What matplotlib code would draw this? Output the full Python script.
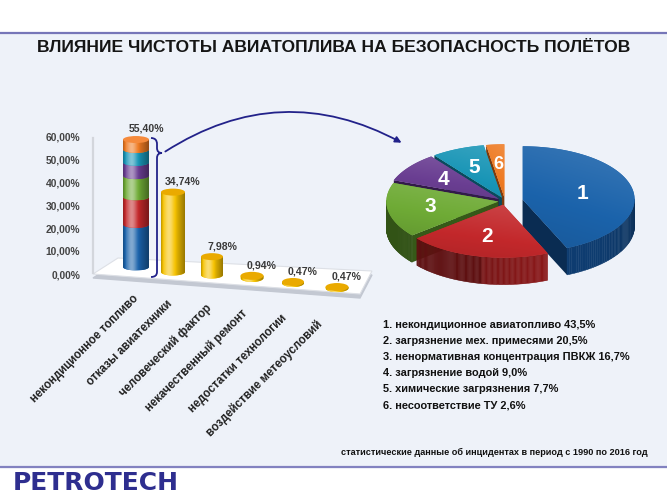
import numpy as np
import matplotlib
matplotlib.use("Agg")
import matplotlib.pyplot as plt
from matplotlib.patches import Polygon, Ellipse, FancyArrowPatch, PathPatch, Rectangle
from matplotlib.path import Path
from matplotlib.colors import to_rgb

plt.rcParams['font.family'] = ['Liberation Sans', 'DejaVu Sans']

# ---- данные ----
title = 'ВЛИЯНИЕ ЧИСТОТЫ АВИАТОПЛИВА НА БЕЗОПАСНОСТЬ ПОЛЁТОВ'
categories = ['некондиционное топливо', 'отказы авиатехники', 'человеческий фактор',
              'некачественный ремонт', 'недостатки технологии', 'воздействие метеоусловий']
bar_values = [55.40, 34.74, 7.98, 0.94, 0.47, 0.47]
bar_labels = ['55,40%', '34,74%', '7,98%', '0,94%', '0,47%', '0,47%']
# сегменты первого столбца (как нарисованы на картинке)
fuel_stack = [18.5, 12.0, 9.2, 5.8, 5.6, 4.3]
y_ticks = [0, 10, 20, 30, 40, 50, 60]
y_tick_labels = ['0,00%', '10,00%', '20,00%', '30,00%', '40,00%', '50,00%', '60,00%']

pie_values = [43.5, 20.5, 16.7, 9.0, 7.7, 2.6]
pie_names = ['некондиционное авиатопливо', 'загрязнение мех. примесями',
             'ненормативная концентрация ПВКЖ', 'загрязнение водой',
             'химические загрязнения', 'несоответствие ТУ']
pie_value_labels = ['43,5%', '20,5%', '16,7%', '9,0%', '7,7%', '2,6%']
note = 'статистические данные об инцидентах в период с 1990 по 2016 год'

# ---- оформление ----
pie_top = ['#1b63ab', '#c3282b', '#6fab36', '#6a3e92', '#1895b6', '#ee7a22']
pie_side = ['#0d3766', '#7e1617', '#436f1e', '#3f215b', '#0b5c73', '#9b4a12']
yellow = '#f6c200'
PX = 2.3          # пикселей на 1%
Y0 = 275          # пиксель нуля шкалы
bar_x = [136, 173, 212, 252, 293, 337]
bar_w = [26, 24, 22, 23, 22, 23]
bar_shift = [3.5, 1.3, 0.0, -1.3, -3.5, -5.7]
cat_anchor = [(132, 293), (166, 298), (205, 302), (241, 307), (281, 312), (316, 318)]

fig = plt.figure(figsize=(6.67, 5.0), dpi=100)
ax0 = fig.add_axes([0, 0, 1, 1])
ax0.set_xlim(0, 667)
ax0.set_ylim(500, 0)
ax0.axis('off')

# фон
ax0.add_patch(Rectangle((0, 0), 667, 500, color='white', zorder=0))
ax0.add_patch(Rectangle((0, 33), 667, 434, color='#eef2f9', zorder=0))
ax0.plot([0, 667], [33, 33], color='#7676b8', lw=1.6, zorder=1)
ax0.plot([0, 667], [467, 467], color='#8282c0', lw=1.6, zorder=1)
ax0.text(334, 48, title, ha='center', va='center', fontsize=12.6, fontweight='bold', color='#151515')
ax0.text(648, 452, note, ha='right', va='center', fontsize=6.6, fontweight='bold', color='#111',
         family=['Liberation Sans Narrow', 'Liberation Sans'])
ax0.text(13, 483, 'PETROTECH', ha='left', va='center', fontsize=18, fontweight='heavy',
         color='#2e2e8f', family=['DejaVu Sans'])

# пол и ось
floor = [(93, 274), (118, 258), (372, 271), (360, 294)]
ax0.add_patch(Polygon([(x, y + 4) for x, y in floor], closed=True, color='#c3c8d2', zorder=2))
ax0.add_patch(Polygon(floor, closed=True, facecolor='white', edgecolor='#dde0e6', lw=0.8, zorder=3))
ax0.plot([93, 93], [138, 273], color='#d3d6dc', lw=1.6, zorder=3)

# ---- столбцы ----
axb = fig.add_axes([0, 0, 1, 1])
axb.patch.set_alpha(0)
axb.axis('off')


def shade_row(c, n=48):
    c = np.array(to_rgb(c))
    t = np.linspace(0, 1, n)
    b = 0.45 * np.exp(-((t - 0.33) / 0.2) ** 2) - 0.38 * np.clip((t - 0.45) / 0.55, 0, 1) ** 1.3 \
        - 0.25 * np.clip((0.12 - t) / 0.12, 0, 1)
    out = np.where(b[:, None] > 0, c + b[:, None] * (1 - c), c * (1 + b[:, None]))
    return np.clip(out, 0, 1)[None, :, :]


def cylinder(x, bottom, height, w, color, cap=None, eh=7 / PX):
    top = bottom + height
    t = np.linspace(np.pi, 2 * np.pi, 40)
    pts = [(x + w / 2 * np.cos(a), bottom + eh / 2 * np.sin(a)) for a in t]
    pts += [(x + w / 2, top), (x - w / 2, top)]
    poly = Polygon(pts, closed=True, facecolor=color, edgecolor='none', zorder=5)
    axb.add_patch(poly)
    im = axb.imshow(shade_row(color), extent=[x - w / 2, x + w / 2, bottom - eh / 2, top],
                    aspect='auto', interpolation='bilinear', zorder=5)
    im.set_clip_path(poly)
    if cap is not None:
        axb.add_patch(Ellipse((x, top), w, eh, facecolor=cap, edgecolor='none', zorder=6))


# первый столбец: составной
bot = bar_shift[0]
for seg, col in zip(fuel_stack, pie_top):
    cylinder(bar_x[0], bot, seg, bar_w[0], col)
    bot += seg
axb.add_patch(Ellipse((bar_x[0], bot), bar_w[0], 7 / PX, facecolor='#f58a3c', edgecolor='none', zorder=6))

for i in range(1, len(bar_values)):
    eh = 7 / PX if i < 3 else 8 / PX
    cylinder(bar_x[i], bar_shift[i], bar_values[i], bar_w[i], yellow, cap='#eaaa00', eh=eh)

for i, lab in enumerate(bar_labels):
    axb.text(bar_x[i] + 10, bar_shift[i] + bar_values[i] + 4.6, lab, ha='center', va='center',
             fontsize=7.6, fontweight='bold', color='#3a3a3a')

for v, lab in zip(y_ticks, y_tick_labels):
    axb.text(80, v, lab, ha='right', va='center', fontsize=7.4, fontweight='bold', color='#444')

axb.set_xlim(0, 667)
axb.set_ylim((Y0 - 500) / PX, Y0 / PX)

for (ax_, ay_), cat in zip(cat_anchor, categories):
    ax0.text(ax_, ay_, cat, ha='right', va='top', rotation=45, rotation_mode='anchor',
             fontsize=8.3, fontweight='bold', color='#222', zorder=4)

# фигурная скобка и стрелка
M, C3, L = Path.MOVETO, Path.CURVE3, Path.LINETO
brace = Path([(151, 138), (157, 138), (157, 144), (157, 148), (157, 153), (162, 153),
              (157, 153), (157, 158), (157, 272), (157, 277), (151, 277)],
             [M, C3, C3, L, C3, C3, C3, C3, L, C3, C3])
ax0.add_patch(PathPatch(brace, facecolor='none', edgecolor='#22228a', lw=1.3, zorder=7))
ax0.add_patch(FancyArrowPatch((163, 153), (404, 144), connectionstyle='arc3,rad=-0.3',
                              arrowstyle='-|>', mutation_scale=9, color='#22228a', lw=1.3, zorder=7))

# ---- 3D круговая диаграмма ----
cx, cy, rx, ry, depth = 505, 201, 112, 53, 27
explode = [0.16, 0.07, 0.06, 0.07, 0.07, 0.07]
fr = np.array(pie_values) / sum(pie_values)
starts = 90 - 360 * np.concatenate([[0], np.cumsum(fr)[:-1]])
ends = starts - 360 * fr


def dark(c, k):
    return tuple(np.clip(np.array(to_rgb(c)) * k, 0, 1))


def top_grad(c, n=32):
    c = np.array(to_rgb(c))
    u = np.linspace(0, 1, n)
    uu, vv = np.meshgrid(u, u)
    g = 0.18 * (1 - vv) + 0.06 * uu - 0.10
    out = np.where(g[..., None] > 0, c + g[..., None] * (1 - c), c * (1 + g[..., None]))
    return np.clip(out, 0, 1)


slices = []
for i in range(len(pie_values)):
    a1, a2 = np.radians(starts[i]), np.radians(ends[i])
    m = (a1 + a2) / 2
    ox = explode[i] * rx * np.cos(m)
    oy = -explode[i] * ry * np.sin(m)
    slices.append((-np.sin(m), i, a1, a2, m, ox, oy))
slices.sort(key=lambda s: s[0])

for _, i, a1, a2, m, ox, oy in slices:
    x0, y0 = cx + ox, cy + oy
    t = np.linspace(a1, a2, 120)
    ex = x0 + rx * np.cos(t)
    ey = y0 - ry * np.sin(t)
    # радиальные грани
    for a, vis in ((a1, np.cos(a1) < -1e-6), (a2, np.cos(a2) > 1e-6)):
        if vis:
            px, py = x0 + rx * np.cos(a), y0 - ry * np.sin(a)
            ax0.add_patch(Polygon([(x0, y0), (px, py), (px, py + depth), (x0, y0 + depth)],
                                  closed=True, facecolor=dark(pie_side[i], 0.8),
                                  edgecolor='none', zorder=10))
    # внешняя стенка
    for j in range(len(t) - 1):
        tm = (t[j] + t[j + 1]) / 2
        if np.sin(tm) < 0.02:
            k = 0.75 + 0.35 * np.cos(tm - np.radians(-60)) ** 2 * (np.cos(tm) > -0.2)
            ax0.add_patch(Polygon([(ex[j], ey[j]), (ex[j + 1], ey[j + 1]),
                                   (ex[j + 1], ey[j + 1] + depth), (ex[j], ey[j] + depth)],
                                  closed=True, facecolor=dark(pie_side[i], k),
                                  edgecolor=dark(pie_side[i], k), lw=0.3, zorder=10))
    # верх с лёгким градиентом
    xs, ys = np.r_[x0, ex], np.r_[y0, ey]
    top = Polygon(np.column_stack([xs, ys]), closed=True, facecolor=pie_top[i],
                  edgecolor='none', zorder=10)
    ax0.add_patch(top)
    im = ax0.imshow(top_grad(pie_top[i]), extent=[xs.min(), xs.max(), ys.max(), ys.min()],
                    aspect='auto', interpolation='bilinear', zorder=10)
    im.set_clip_path(top)
    lr = 0.62 if i else 0.55
    ax0.text(x0 + lr * rx * np.cos(m), y0 - lr * ry * np.sin(m), str(i + 1), ha='center',
             va='center', fontsize=15 if pie_values[i] > 5 else 13, fontweight='bold',
             color='white', zorder=11)

ax0.set_xlim(0, 667)
ax0.set_ylim(500, 0)

# легенда
for i, (name, lab) in enumerate(zip(pie_names, pie_value_labels)):
    ax0.text(383, 325 + 16 * i, f'{i + 1}. {name} {lab}', ha='left', va='center',
             fontsize=7.9, fontweight='bold', color='#111')

fig.savefig('out.png', dpi=100)
